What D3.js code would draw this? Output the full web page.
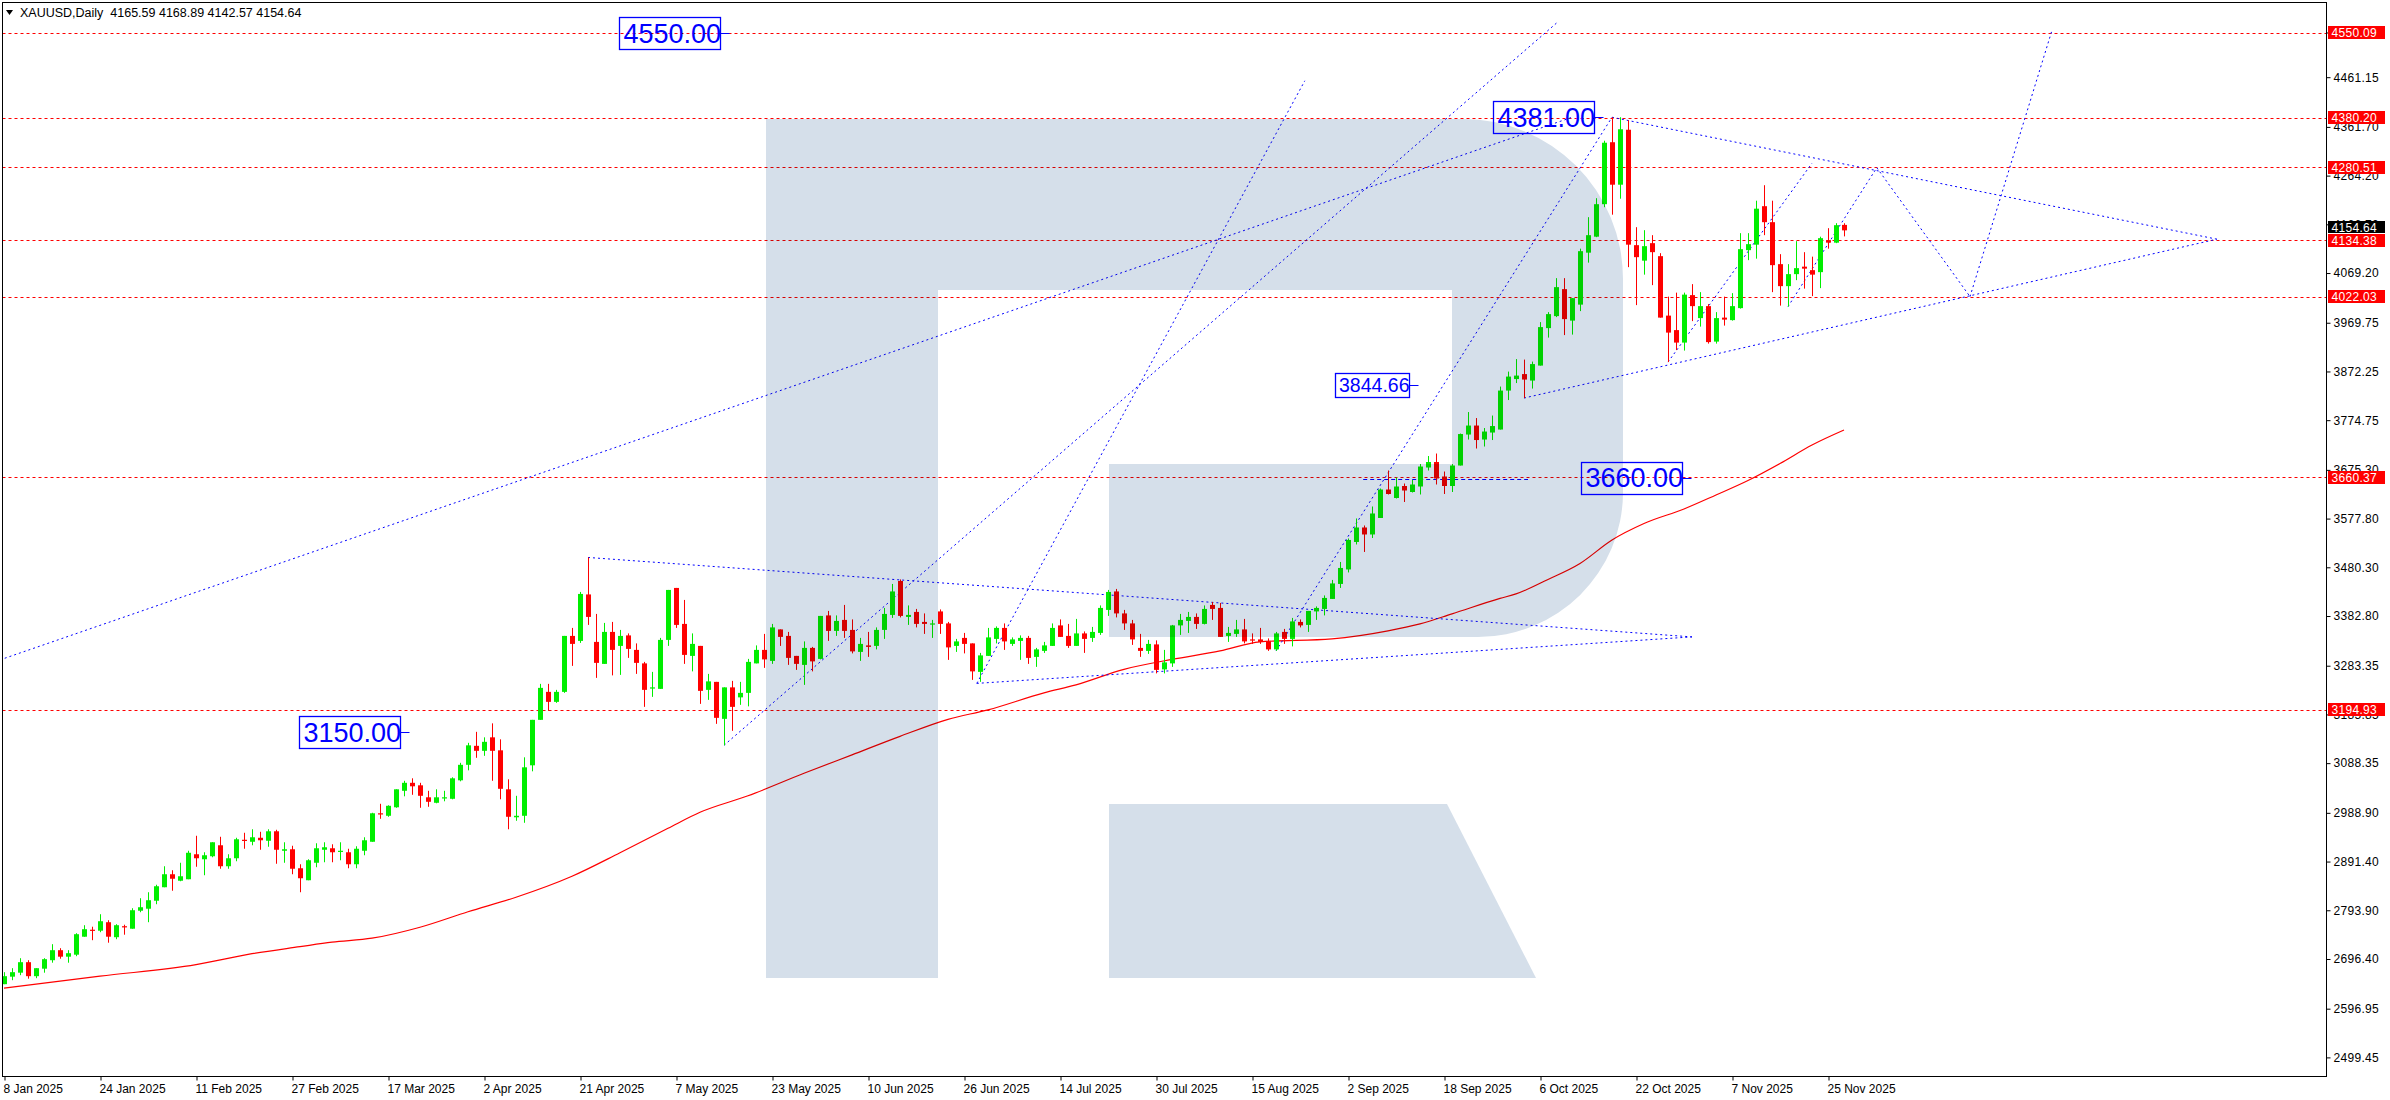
<!DOCTYPE html>
<html><head><meta charset="utf-8">
<script src="https://cdn.jsdelivr.net/npm/d3@7"></script>
<style>html,body{margin:0;padding:0;background:#fff;overflow:hidden}</style>
</head><body>
<svg id="chart" width="2390" height="1100"></svg>
<script>
const symbolTitle = "XAUUSD,Daily";
const lastOHLC = [4165.59, 4168.89, 4142.57, 4154.64];

const opens = [2646,2661,2669,2690,2662,2677,2694,2714,2701,2705, 2741,2755,2753,2770,2740,2762,2757,2793,2797,2813, 2840,2866,2853,2856,2906,2896,2902,2924,2882,2898, 2935,2931,2939,2933,2952,2913,2916,2878,2854,2889, 2915,2918,2912,2910,2886,2913,2931,2988,2983,3000, 3033,3049,3044,3020,3009,3019,3017,3054,3085,3123, 3113,3140,3114,3036,2980,2983,3084,3175,3231,3211, 3231,3343,3333,3426,3331,3287,3351,3323,3344,3315, 3288,3238,3237,3335,3439,3367,3303,3323,3235,3251, 3177,3240,3220,3229,3288,3315,3293,3356,3343,3303, 3285,3319,3297,3384,3353,3375,3355,3311,3324,3323, 3355,3385,3453,3381,3391,3371,3367,3392,3368,3323, 3339,3328,3271,3303,3337,3359,3327,3333,3339,3301, 3313,3323,3364,3343,3323,3348,3339,3349,3395,3432, 3388,3368,3319,3313,3326,3276,3288,3364,3373,3381, 3367,3405,3399,3343,3347,3356,3336,3336,3332,3316, 3351,3337,3371,3365,3392,3397,3417,3447,3476,3531, 3560,3546,3579,3636,3619,3643,3631,3642,3680,3691, 3662,3643,3684,3746,3764,3736,3750,3756,3834,3857, 3867,3854,3884,3959,3983,4037,3974,4006,4110,4142, 4207,4331,4246,4356,4125,4094,4129,4103,3984,3955, 3930,4025,3979,4003,3932,3980,3975,3999,4115,4126, 4203,4171,4087,4043,4067,4082,4075,4071,4135,4130, 4165.59];
const highs = [2670,2678,2698,2694,2678,2698,2726,2718,2714,2748, 2764,2761,2786,2774,2766,2765,2798,2818,2830,2845, 2882,2874,2889,2913,2943,2910,2930,2941,2906,2939, 2949,2956,2951,2956,2955,2930,2923,2886,2896,2928, 2930,2926,2930,2917,2922,2940,2989,3007,3004,3036, 3053,3058,3049,3033,3036,3033,3060,3089,3129,3151, 3140,3168,3136,3056,3023,3100,3175,3247,3247,3235, 3343,3359,3431,3500,3387,3369,3371,3355,3348,3328, 3291,3271,3339,3435,3439,3415,3348,3323,3267,3251, 3240,3253,3251,3297,3324,3347,3367,3356,3351,3303, 3332,3321,3383,3393,3384,3405,3376,3339,3351,3360, 3399,3447,3456,3404,3397,3388,3375,3396,3371,3337, 3349,3328,3309,3359,3362,3368,3340,3344,3343,3319, 3331,3368,3376,3367,3377,3352,3361,3404,3435,3437, 3395,3375,3347,3335,3334,3315,3365,3387,3391,3388, 3404,3411,3409,3361,3375,3377,3348,3359,3338,3351, 3357,3379,3376,3393,3402,3424,3455,3491,3538,3578, 3564,3602,3638,3674,3660,3648,3655,3687,3703,3708, 3672,3687,3748,3791,3779,3759,3784,3842,3872,3897, 3896,3892,3971,3991,4059,4059,4019,4118,4181,4219, 4334,4381,4381,4375,4161,4155,4145,4109,4022,4030, 4030,4047,4031,4007,3991,4022,4029,4149,4149,4214, 4245,4214,4107,4087,4133,4111,4102,4142,4159,4169, 4168.89];
const lows = [2646,2654,2664,2657,2658,2669,2689,2697,2689,2702, 2741,2734,2750,2729,2736,2745,2757,2790,2770,2806, 2840,2833,2852,2856,2881,2864,2900,2877,2877,2892, 2917,2924,2915,2921,2887,2889,2866,2830,2854,2880, 2890,2890,2894,2878,2878,2904,2931,2977,2981,2999, 3022,3025,2999,3001,3008,3012,3016,3052,3074,3099, 3103,3053,3016,2956,2973,2969,3072,3175,3193,3209, 3229,3283,3329,3365,3259,3287,3264,3265,3299,3267, 3201,3221,3237,3323,3359,3287,3272,3207,3215,3167, 3124,3153,3205,3202,3288,3279,3287,3323,3285,3275, 3245,3272,3296,3333,3343,3339,3308,3293,3301,3316, 3337,3379,3380,3365,3360,3347,3339,3347,3295,3311, 3308,3255,3251,3303,3328,3315,3323,3295,3287,3281, 3309,3323,3341,3319,3323,3309,3331,3345,3383,3380, 3355,3325,3301,3307,3268,3268,3281,3345,3349,3357, 3366,3375,3341,3331,3341,3328,3327,3327,3313,3313, 3327,3322,3360,3351,3375,3384,3417,3439,3470,3526, 3511,3539,3579,3626,3618,3611,3630,3626,3674,3646, 3627,3631,3684,3736,3718,3722,3735,3756,3815,3849, 3819,3838,3884,3940,3981,3945,3946,3993,4090,4141, 4201,4186,4218,4081,4005,4066,4045,3980,3891,3915, 3914,3973,3962,3928,3928,3964,3974,3998,4095,4098, 4145,4031,4004,4002,4055,4038,4023,4039,4118,4129, 4142.57];
const closes = [2662,2670,2690,2662,2678,2696,2714,2701,2708,2746, 2756,2753,2772,2741,2764,2760,2794,2800,2814,2842, 2866,2857,2862,2909,2898,2904,2930,2882,2898,2936, 2933,2940,2934,2952,2915,2916,2877,2858,2894,2918, 2920,2910,2913,2886,2917,2934,2988,2987,3003,3036, 3049,3042,3023,3011,3020,3020,3058,3085,3124,3113, 3131,3113,3037,2981,2983,3080,3175,3239,3211,3231, 3343,3327,3427,3381,3289,3351,3315,3343,3317,3289, 3235,3240,3335,3435,3365,3305,3327,3233,3252,3179, 3240,3201,3229,3291,3315,3296,3360,3341,3299,3287, 3319,3292,3383,3353,3373,3353,3312,3327,3321,3355, 3387,3432,3383,3385,3367,3367,3368,3367,3320,3332, 3327,3272,3304,3340,3359,3332,3336,3339,3299,3316, 3324,3359,3341,3323,3348,3337,3351,3399,3431,3388, 3368,3336,3313,3327,3275,3290,3364,3375,3381,3367, 3397,3397,3341,3349,3356,3332,3335,3331,3316,3348, 3337,3372,3364,3393,3399,3419,3448,3479,3535,3560, 3546,3588,3636,3627,3642,3634,3646,3682,3691,3658, 3643,3684,3747,3764,3735,3752,3763,3834,3862,3864, 3856,3887,3961,3987,4041,3977,4019,4113,4145,4207, 4330,4246,4357,4126,4101,4123,4111,3980,3950,3930, 4026,4003,4003,3931,3979,3976,4003,4117,4127,4198, 4171,4085,4043,4067,4079,4078,4066,4139,4130,4165, 4154.64];

const dateTickBars = [0,12,24,36,48,60,72,84,96,108,120,132,144,156,168,180,192,204,216,228];
const dateTickLabels = ["8 Jan 2025","24 Jan 2025","11 Feb 2025","27 Feb 2025","17 Mar 2025","2 Apr 2025","21 Apr 2025","7 May 2025","23 May 2025","10 Jun 2025","26 Jun 2025","14 Jul 2025","30 Jul 2025","15 Aug 2025","2 Sep 2025","18 Sep 2025","6 Oct 2025","22 Oct 2025","7 Nov 2025","25 Nov 2025"];
const priceTicks = [4550.65,4461.15,4361.70,4264.20,4166.70,4069.20,3969.75,3872.25,3774.75,3675.30,3577.80,3480.30,3382.80,3283.35,3185.85,3088.35,2988.90,2891.40,2793.90,2696.40,2596.95,2499.45];
const levelLines = [4550.09,4380.20,4280.51,4134.38,4022.03,3660.37,3194.93];

const maBars = [0,12,24,31,37,41,46,52,58,64,71,77,83,87,93,100,106,112,118,123,130,134,140,146,152,157,166,173,177,181,187,189,193,197,201,205,210,214,218,222,226,230];
const maValues = [2638,2662,2685,2707,2721,2730,2738,2760,2791,2820,2862,2909,2958,2990,3023,3068,3105,3142,3176,3195,3229,3245,3276,3296,3313,3331,3337,3353,3367,3387,3418,3427,3456,3488,3535,3568,3597,3625,3654,3688,3725,3755];

// trend lines: [bar1, price1, bar2, price2]
const trendLines = [
  [-0.5,3295,196.1,4381.5],
  [90,3124,194.1,4570],
  [121.6,3248,162.6,4454],
  [73,3500,211,3341],
  [121.6,3248,211,3341],
  [159,3313,201,4381],
  [201,4381,276.6,4137],
  [190,3819,276.6,4137],
  [208,3891,226,4289],
  [223,4002,234.1,4280],
  [234.1,4280,245.75,4022],
  [245.75,4022,256,4555]
];
const hLineSeg = [169.9,3657,190.5];

const labelTexts = ["4550.00","4381.00","3844.66","3660.00","3150.00"];
const labelBars = [76.9,186.1,166.4,197.1,36.9];
const labelPrices = [4550,4381,3844.66,3660,3150];
const labelBig = [true,true,false,true,true];

const svg = d3.select("#chart");
const W = 2390, H = 1100;
const P = {l:2.5, t:2.5, r:2326.5, b:1076.5};
const FONT = "'Liberation Sans', Arial, sans-serif";
const x = d3.scaleLinear().domain([0,230]).range([4,1844]);
const y = d3.scaleLinear().domain([2499.45,4461.15]).range([1057.4,77.2]);
const px = v => Math.round(v) + 0.5;

svg.append("rect").attr("width",W).attr("height",H).attr("fill","#fff");
svg.append("defs").append("clipPath").attr("id","clip").append("rect")
  .attr("x",P.l).attr("y",P.t).attr("width",P.r-P.l).attr("height",P.b-P.t);
const g = svg.append("g").attr("clip-path","url(#clip)");

// horizontal level lines
g.selectAll("line.lvl").data(levelLines).join("line").attr("class","lvl")
  .attr("x1",P.l).attr("x2",P.r).attr("y1",d=>px(y(d))).attr("y2",d=>px(y(d)))
  .attr("stroke","#ff0000").attr("stroke-width",1).attr("stroke-dasharray","3,3");

// moving average
const maLine = d3.line().x((d,i)=>x(maBars[i])).y(d=>y(d)).curve(d3.curveMonotoneX);
g.append("path").attr("d",maLine(maValues)).attr("fill","none")
  .attr("stroke","#ff0000").attr("stroke-width",1.2);

// trend lines
g.selectAll("line.tl").data(trendLines).join("line").attr("class","tl")
  .attr("x1",d=>x(d[0])).attr("y1",d=>y(d[1])).attr("x2",d=>x(d[2])).attr("y2",d=>y(d[3]))
  .attr("stroke","#0000ff").attr("stroke-width",1).attr("stroke-dasharray","2,3");
g.append("line").attr("x1",x(hLineSeg[0])).attr("x2",x(hLineSeg[2]))
  .attr("y1",px(y(hLineSeg[1]))).attr("y2",px(y(hLineSeg[1])))
  .attr("stroke","#0000ff").attr("stroke-width",1).attr("stroke-dasharray","4,3");

// candles
const bars = d3.range(opens.length);
const UP = "#00ee00", DN = "#ff0000";
const col = i => closes[i] >= opens[i] ? UP : DN;
const cg = g.append("g");
cg.selectAll("line.wick").data(bars).join("line").attr("class","wick")
  .attr("x1",i=>px(x(i))).attr("x2",i=>px(x(i)))
  .attr("y1",i=>y(highs[i])).attr("y2",i=>y(lows[i]))
  .attr("stroke",col).attr("stroke-width",1);
cg.selectAll("rect.body").data(bars).join("rect").attr("class","body")
  .attr("x",i=>px(x(i))-2.5).attr("width",5)
  .attr("y",i=>Math.min(y(opens[i]),y(closes[i])))
  .attr("height",i=>Math.max(1.2,Math.abs(y(opens[i])-y(closes[i]))))
  .attr("fill",col);

// watermark logo (decoration)
const wm = g.append("g").style("mix-blend-mode","multiply").attr("fill","#d5dfea");
wm.append("path").attr("d","M766,119 L1463,119 A160,160 0 0 1 1623,279 L1623,493 A145,145 0 0 1 1478,637 L1109,637 L1109,464 L1452,464 L1452,290 L938,290 L938,978 L766,978 Z");
wm.append("path").attr("d","M1109,804 L1447,804 L1536,978 L1109,978 Z");

// blue price labels
labelTexts.forEach((t,k)=>{
  const big = labelBig[k];
  const bw = big ? 101 : 74, bh = big ? 32 : 24, fs = big ? 27 : 19.5;
  const left = Math.round(x(labelBars[k])) + 0.5, cy = y(labelPrices[k]);
  const top = Math.round(cy - bh/2) + 0.5;
  svg.append("rect").attr("x",left).attr("y",top).attr("width",bw).attr("height",bh)
    .attr("fill","none").attr("stroke","#0000ff").attr("stroke-width",1.3);
  svg.append("line").attr("x1",left+bw).attr("x2",left+bw+9).attr("y1",px(cy)).attr("y2",px(cy))
    .attr("stroke","#0000ff").attr("stroke-width",1);
  svg.append("text").attr("x",left+(big?4:3.5)).attr("y",cy+(big?9.8:7.2)).text(t)
    .attr("font-family",FONT).attr("font-size",fs).attr("fill","#0000ff");
});

// frame
svg.append("rect").attr("x",P.l).attr("y",P.t).attr("width",P.r-P.l).attr("height",P.b-P.t)
  .attr("fill","none").attr("stroke","#000").attr("stroke-width",1);

// price axis
const ya = svg.append("g").attr("transform",`translate(${P.r},0)`)
  .call(d3.axisRight(y).tickValues(priceTicks).tickSize(4).tickPadding(3).tickFormat(d3.format(".2f")));
ya.select(".domain").remove();
ya.selectAll("text").attr("font-family",FONT).attr("font-size",12).attr("fill","#000").attr("letter-spacing","0.3px");
ya.selectAll("line").attr("stroke","#000");

// date axis
const xa = svg.append("g").attr("transform",`translate(0,${P.b})`)
  .call(d3.axisBottom(x).tickValues(dateTickBars).tickSize(4).tickPadding(4).tickFormat((d,i)=>dateTickLabels[i]));
xa.select(".domain").remove();
xa.selectAll("text").attr("font-family",FONT).attr("font-size",12).attr("fill","#000").attr("text-anchor","start").attr("dx",-1);
xa.selectAll(".tick line").attr("stroke","#000").attr("transform","translate(0.5,0)");

// right-side level labels
const lbl = svg.append("g");
levelLines.forEach(v=>{
  const cy = y(v);
  lbl.append("rect").attr("x",P.r+1.5).attr("y",Math.round(cy-6.5)).attr("width",57).attr("height",13).attr("fill","#ff0000");
  lbl.append("text").attr("x",P.r+5).attr("y",cy+4.3).text(v.toFixed(2))
    .attr("font-family",FONT).attr("font-size",12).attr("fill","#fff").attr("letter-spacing","0.3px");
});
{
  const v = lastOHLC[3], cy = y(v) - 3;
  lbl.append("rect").attr("x",P.r+1.5).attr("y",Math.round(cy-6)).attr("width",57).attr("height",12).attr("fill","#000");
  lbl.append("text").attr("x",P.r+5).attr("y",cy+4.3).text(v.toFixed(2))
    .attr("font-family",FONT).attr("font-size",12).attr("fill","#fff").attr("letter-spacing","0.3px");
}

// header
svg.append("path").attr("d","M6,10 L13,10 L9.5,15 Z").attr("fill","#000");
svg.append("text").attr("x",20).attr("y",17).attr("font-family",FONT).attr("font-size",12.5).attr("fill","#000")
  .attr("xml:space","preserve")
  .text(symbolTitle + "  " + lastOHLC.map(d=>d.toFixed(2)).join(" "));
</script>
</body></html>
